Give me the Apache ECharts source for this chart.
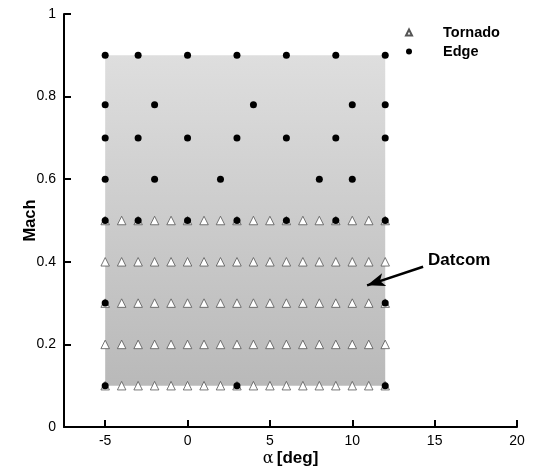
<!DOCTYPE html>
<html>
<head>
<meta charset="utf-8">
<script src="https://cdn.jsdelivr.net/npm/echarts@6/dist/echarts.min.js"></script>
<style>
html,body{margin:0;padding:0;background:#fff;}
#chart{width:534px;height:468px;}
</style>
</head>
<body>
<div id="chart"></div>
<script>
// ---- data ----
const xTicks = [-5, 0, 5, 10, 15, 20];
const yTicks = [0, 0.2, 0.4, 0.6, 0.8, 1];
const tornadoAlpha = [-5, -4, -3, -2, -1, 0, 1, 2, 3, 4, 5, 6, 7, 8, 9, 10, 11, 12];
const tornadoMach = [0.1, 0.2, 0.3, 0.4, 0.5];
const edgeMach = [0.1, 0.3, 0.5, 0.6, 0.7, 0.78, 0.9];
const edgeAlpha_01 = [-5, 3, 12];
const edgeAlpha_03 = [-5, 12];
const edgeAlpha_05 = [-5, -3, 0, 3, 6, 9, 12];
const edgeAlpha_06 = [-5, -2, 2, 8, 10];
const edgeAlpha_07 = [-5, -3, 0, 3, 6, 9, 12];
const edgeAlpha_078 = [-5, -2, 4, 10, 12];
const edgeAlpha_09 = [-5, -3, 0, 3, 6, 9, 12];
const datcomAlpha = [-5, 12];
const datcomMach = [0.1, 0.9];
const datcomArrowFrom = [14.3, 0.388];
const datcomArrowTo = [10.9, 0.343];
const datcomLabelAt = [14.6, 0.404];

// ---- build series data ----
const tornadoData = [];
tornadoMach.forEach(m => tornadoAlpha.forEach(a => tornadoData.push([a, m])));
const edgeLists = [edgeAlpha_01, edgeAlpha_03, edgeAlpha_05, edgeAlpha_06, edgeAlpha_07, edgeAlpha_078, edgeAlpha_09];
const edgeData = [];
edgeMach.forEach((m, i) => edgeLists[i].forEach(a => edgeData.push([a, m])));

const FONT = '"Liberation Sans", Arial, sans-serif';
const chart = echarts.init(document.getElementById('chart'), null, {renderer: 'canvas'});
chart.setOption({
  animation: false,
  backgroundColor: '#fff',
  grid: {left: 64, right: 17, top: 14, bottom: 41, containLabel: false, outerBoundsMode: 'none'},
  legend: {
    orient: 'vertical',
    left: 400, top: 20,
    itemWidth: 6, itemHeight: 6, itemGap: 4,
    data: ['Tornado', 'Edge'],
    textStyle: {fontFamily: FONT, fontWeight: 'bold', fontSize: 14.5, color: '#000', padding: [0, 0, 0, 26]}
  },
  xAxis: {
    type: 'value', min: -7.5, max: 20,
    splitLine: {show: false},
    axisLine: {show: true, onZero: false, lineStyle: {color: '#000', width: 2}},
    axisTick: {show: true, inside: true, length: 7, customValues: xTicks, lineStyle: {color: '#000', width: 2}},
    axisLabel: {customValues: xTicks, fontFamily: FONT, fontSize: 14, color: '#000', margin: 7},
    name: '{a|α} {b|[deg]}',
    nameLocation: 'middle', nameGap: 23, nameMoveOverlap: false,
    nameTextStyle: {
      rich: {
        a: {fontFamily: '"DejaVu Serif", "Liberation Serif", serif', fontSize: 16, color: '#000'},
        b: {fontFamily: FONT, fontWeight: 'bold', fontSize: 17, color: '#000'}
      }
    }
  },
  yAxis: {
    type: 'value', min: 0, max: 1, interval: 0.2,
    splitLine: {show: false},
    axisLine: {show: true, onZero: false, lineStyle: {color: '#000', width: 2}},
    axisTick: {show: true, inside: true, length: 7, lineStyle: {color: '#000', width: 2}},
    axisLabel: {fontFamily: FONT, fontSize: 14, color: '#000', margin: 8, formatter: v => String(+v.toFixed(1))},
    name: 'Mach', nameLocation: 'middle', nameGap: 25, nameRotate: 90, nameMoveOverlap: false,
    nameTextStyle: {fontFamily: FONT, fontWeight: 'bold', fontSize: 16.5, color: '#000'}
  },
  series: [
    {
      name: 'Datcom', type: 'scatter', data: [], z: 1,
      markArea: {
        silent: true,
        itemStyle: {
          color: new echarts.graphic.LinearGradient(0, 0, 0, 1, [
            {offset: 0, color: '#dedede'}, {offset: 1, color: '#b9b9b9'}
          ])
        },
        data: [[{coord: [datcomAlpha[0], datcomMach[1]]}, {coord: [datcomAlpha[1], datcomMach[0]]}]]
      },
      markLine: {
        silent: true, symbol: ['none', 'arrow'], symbolSize: [10, 18],
        lineStyle: {color: '#000', width: 2.5, type: 'solid'},
        label: {show: false},
        data: [[{coord: datcomArrowFrom}, {coord: datcomArrowTo}]]
      },
      markPoint: {
        silent: true, symbol: 'circle', symbolSize: 0,
        label: {show: true, position: 'right', distance: 0, formatter: 'Datcom', fontFamily: FONT, fontWeight: 'bold', fontSize: 17, color: '#000'},
        data: [{coord: datcomLabelAt}]
      }
    },
    {
      name: 'Tornado', type: 'scatter', symbol: 'triangle', symbolSize: 8.5, z: 3,
      itemStyle: {color: '#fff', borderColor: '#555', borderWidth: 0.8, opacity: 1},
      data: tornadoData
    },
    {
      name: 'Edge', type: 'scatter', symbol: 'circle', symbolSize: 7, z: 4,
      itemStyle: {color: '#000', opacity: 1},
      data: edgeData
    }
  ]
});
</script>
</body>
</html>
